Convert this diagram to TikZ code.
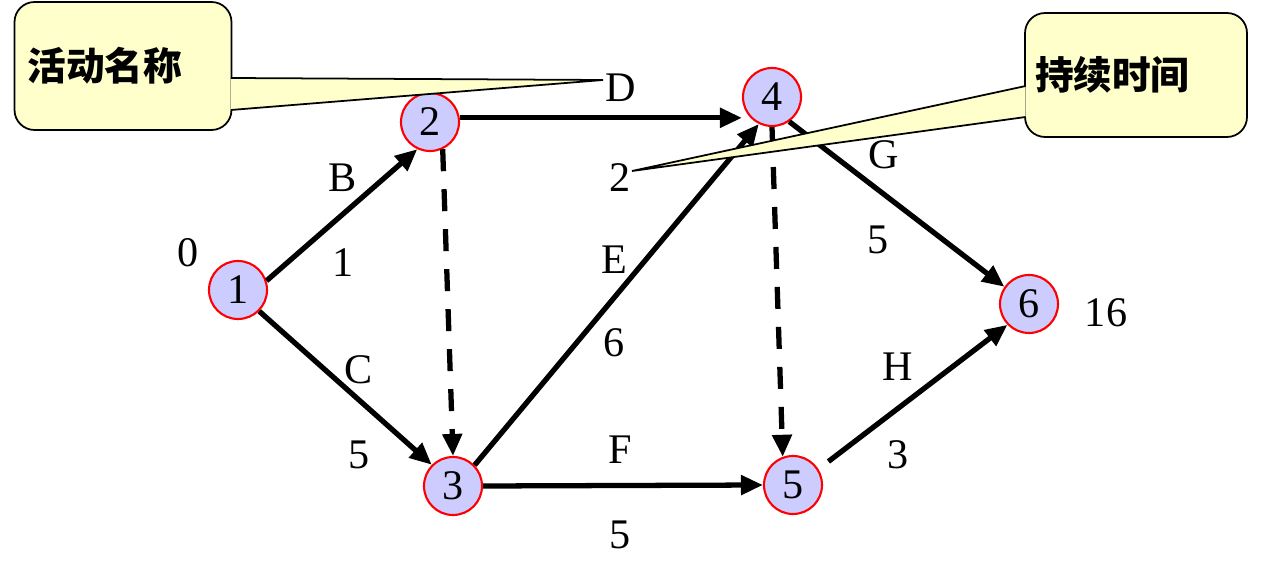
\documentclass[tikz,border=0pt]{standalone}
\usepackage{fontspec}
\setmainfont{Liberation Serif}
\newfontfamily\cjk{Noto Sans CJK SC}
\usepackage{tikz}
\usetikzlibrary{arrows.meta}
\usetikzlibrary{calc}

\definecolor{evfill}{RGB}{204,204,255}
\definecolor{notefill}{RGB}{255,255,204}

\tikzset{
  event/.style={circle, draw=red, line width=1.2pt, fill=evfill, minimum size=1.16cm, inner sep=0pt, font=\fontsize{24}{28}\selectfont},
  lbl/.style={inner sep=0pt, font=\fontsize{24}{28}\selectfont},
  act/.style={-{Triangle[length=0.44cm, width=0.38cm]}, line width=3pt},
  dummy/.style={act, dash pattern=on 0.44cm off 0.36cm},
  notebox/.style={draw, line width=1pt, fill=notefill, rounded corners=0.4cm, align=left, inner ysep=0pt, font=\cjk\bfseries\fontsize{22}{26}\selectfont},
  pointer/.style={draw, fill=notefill, line width=1pt, line join=miter}
}

\begin{document}
\begin{tikzpicture}[x=0.02cm, y=-0.02cm]
        \useasboundingbox (0,0) rectangle (1266,570);

        % events
        \node[event] (n1) at (238,290) {1};
        \node[event] (n2) at (430,122) {2};
        \node[event] (n3) at (453,486) {3};
        \node[event] (n4) at (772,97) {4};
        \node[event] (n5) at (793,485) {5};
        \node[event] (n6) at (1029,304) {6};

        % times at start and end
        \node[lbl] (t1) at (188,253) {0};
        \node[lbl] (t6) at (1106,313) {16};

        % activity names and durations
        \node[lbl] (labB) at (343,178) {B};
        \node[lbl] (durB) at (343,263) {1};
        \node[lbl] (labC) at (359,370) {C};
        \node[lbl] (durC) at (359,455) {5};
        \node[lbl] (labD) at (621,88) {D};
        \node[lbl] (durD) at (620,178) {2};
        \node[lbl] (labE) at (614,260) {E};
        \node[lbl] (durE) at (614,343) {6};
        \node[lbl] (labF) at (620,450) {F};
        \node[lbl] (durF) at (620,535) {5};
        \node[lbl] (labG) at (884,155) {G};
        \node[lbl] (durG) at (878,240) {5};
        \node[lbl] (labH) at (898,367) {H};
        \node[lbl] (durH) at (898,455) {3};

        % activities
        \draw[act] (n1.18) -- (n2.245);
        \draw[act] (n1.-45) -- (n3.135);
        \draw[act] (n2.8) -- (n4.west |- n2.8);
        \draw[dummy] (n2.-65) -- (n3.north);
        \draw[act] (n3.44) -- (n4.244);
        \draw[act] (n3.east) -- (n5.west);
        \draw[dummy] (n4.-90) -- (n5.110);
        \draw[act] (n4.-55) -- (n6.145);
        \draw[act, shorten <=0.25cm] (n5.32) -- (n6.224);

        % callouts
        \coordinate (tipD) at (603,80);
        \coordinate (tip2) at (632,171);
        \node[notebox, minimum width=4.34cm, minimum height=2.56cm, text width=3.82cm, inner xsep=0.26cm] (namebox) at (123,66) {活动名称};
        \filldraw[pointer] ($(namebox.east)+(-1.5,12)$) -- (tipD) -- ($(namebox.east)+(-1.5,44)$);
        \node[notebox, minimum width=4.44cm, minimum height=2.48cm, text width=4.04cm, inner xsep=0.2cm] (timebox) at (1136,75) {持续时间};
        \filldraw[pointer] ($(timebox.west)+(1.5,11)$) -- (tip2) -- ($(timebox.west)+(1.5,42)$);
\end{tikzpicture}
\end{document}
